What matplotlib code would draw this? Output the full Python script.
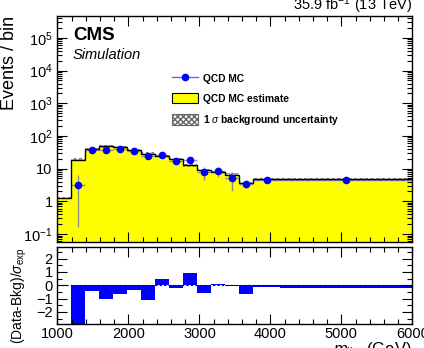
import numpy as np
import matplotlib.pyplot as plt
from matplotlib.ticker import MultipleLocator, LogLocator, FixedLocator, FixedFormatter, NullFormatter
from matplotlib.patches import Patch
from matplotlib.lines import Line2D

plt.rcParams['font.family'] = ['Liberation Sans', 'DejaVu Sans']
plt.rcParams['mathtext.fontset'] = 'custom'
plt.rcParams['mathtext.rm'] = 'Liberation Sans'
plt.rcParams['mathtext.it'] = 'Liberation Sans:italic'

# bin edges (GeV) and QCD MC estimate per bin
edges = [1000, 1197, 1394, 1591, 1788, 1985, 2182, 2379, 2576, 2773,
         2970, 3167, 3364, 3561, 3758, 4140, 6000]
bkg = [1.3, 19, 40, 48, 47, 37, 29, 24, 19.5, 12.6, 9.3, 7.9, 6.6, 3.7, 4.7, 4.7]

# QCD MC points (bins 2..16)
data = [3.1, 38, 38, 41, 34, 24, 26, 17, 18, 7.9, 8.3, 5.2, 3.3, 4.6, 4.6]
data_lo = [0.16, 33, 33, 36, 29, 20, 22, 14, 15, 4.6, 5.5, 2.0, 2.5, 4.3, 4.4]
data_hi = [6.3, 44, 44, 47, 39, 28, 30, 20, 21, 11, 11, 8.0, 4.3, 4.9, 4.8]

# pull per bin
pull = [0, -3.5, -0.4, -1.0, -0.62, -0.32, -1.13, 0.45, -0.17, 0.9,
        -0.58, 0.12, -0.05, -0.68, -0.15, -0.22]

edges = np.array(edges)
bkg = np.array(bkg)
centers = 0.5 * (edges[:-1] + edges[1:])[1:]
halfw = 0.5 * np.diff(edges)[1:]
data = np.array(data)

fig = plt.figure(figsize=(4.24, 3.48), dpi=100)
ax = fig.add_axes([0.1356, 0.305, 0.8368, 0.649])
axr = fig.add_axes([0.1356, 0.069, 0.8368, 0.2204])

# top panel
ax.stairs(bkg, edges, baseline=1e-3, fill=True, color='#ffff00', lw=0)
ax.stairs(bkg * 1.08, edges, baseline=bkg * 0.92, fill=True, facecolor='none',
          edgecolor='#888888', hatch='xxxxxx', lw=0)
ax.stairs(bkg, edges, baseline=None, color='black', lw=1.0)
ax.errorbar(centers, data, xerr=halfw, yerr=[data - np.array(data_lo), np.array(data_hi) - data],
            fmt='none', ecolor=(0.2, 0.2, 1.0, 0.55), elinewidth=1.0)
ax.plot(centers, data, 'o', color='#0000ff', ms=4.5, ls='none')

ax.set_yscale('log')
ax.set_xlim(1000, 6000)
ax.set_ylim(10 ** -1.24, 10 ** 5.67)
decades = [0.1, 1, 10, 100, 1e3, 1e4, 1e5]
ax.yaxis.set_major_locator(FixedLocator(decades))
ax.yaxis.set_major_formatter(FixedFormatter(['$10^{-1}$', '1', '10', '$10^{2}$', '$10^{3}$', '$10^{4}$', '$10^{5}$']))
ax.yaxis.set_minor_locator(LogLocator(base=10, subs=np.arange(2, 10), numticks=20))
ax.yaxis.set_minor_formatter(NullFormatter())
ax.xaxis.set_major_locator(MultipleLocator(1000))
ax.xaxis.set_minor_locator(MultipleLocator(200))
ax.tick_params(labelbottom=False)

for a in (ax, axr):
    a.tick_params(which='both', direction='in', top=True, right=True, labelsize=10.5, width=0.8)
    a.tick_params(which='major', length=7)
    a.tick_params(which='minor', length=3.5)
    for s in a.spines.values():
        s.set_linewidth(1.0)
axr.tick_params(axis='x', pad=2)

handles = [
    Line2D([0], [0], color=(0.4, 0.4, 1.0), marker='o', mfc='#0000ff', mec='#0000ff', ms=4.5, lw=1),
    Patch(facecolor='#ffff00', edgecolor='black', lw=0.8),
    Patch(facecolor='white', edgecolor='#666666', hatch='xxxxxx', lw=0.8),
]
labels = ['QCD MC', 'QCD MC estimate', r'1 $\sigma$ background uncertainty']
leg = ax.legend(handles, labels, loc='upper left', bbox_to_anchor=(0.298, 0.79),
                frameon=False, prop={'size': 7.4, 'weight': 'bold'},
                handlelength=2.5, handleheight=1.25, labelspacing=0.88, handletextpad=0.45)

ax.text(0.043, 0.95, 'CMS', transform=ax.transAxes, fontsize=13.5, fontweight='bold', va='top')
ax.text(0.043, 0.86, 'Simulation', transform=ax.transAxes, fontsize=10.5, style='italic', va='top')

fig.text(0.972, 0.971, r'35.9 fb$^{-1}$ (13 TeV)', ha='right', va='baseline', fontsize=10.5)
fig.text(0.022, 0.955, 'Events / bin', rotation=90, ha='center', va='top', fontsize=13)

# ratio panel
axr.stairs(pull, edges, baseline=0, fill=True, color='#0000ff', lw=0)
axr.axhline(0, color='#000080', lw=0.8, ls=(0, (2, 2)))
axr.set_xlim(1000, 6000)
axr.set_ylim(-2.9, 2.85)
axr.yaxis.set_major_locator(MultipleLocator(1))
axr.yaxis.set_minor_locator(MultipleLocator(0.5))
axr.xaxis.set_major_locator(MultipleLocator(1000))
axr.xaxis.set_minor_locator(MultipleLocator(200))
axr.set_yticks([-2, -1, 0, 1, 2])
axr.set_yticklabels(['\u22122', '\u22121', '0', '1', '2'])

fig.text(0.972, 0.022, r'$m_{\mathrm{jj}}$   (GeV)', ha='right', va='top', fontsize=12)
fig.text(0.045, 0.29, r'(Data-Bkg)/$\sigma_{\mathrm{exp}}$', rotation=90, ha='center', va='top', fontsize=10)

fig.savefig('out.png', dpi=100)
